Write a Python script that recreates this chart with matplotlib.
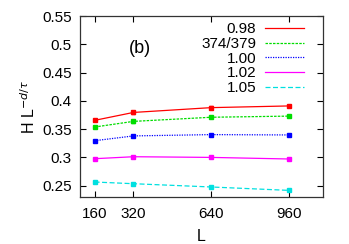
import numpy as np
import matplotlib
matplotlib.use("Agg")
import matplotlib.pyplot as plt
from matplotlib.lines import Line2D

plt.rcParams['font.family'] = ['Liberation Sans', 'DejaVu Sans']

L = [160, 320, 640, 960]
labels = ['0.98', '374/379', '1.00', '1.02', '1.05']
values = [
    [0.3655, 0.3795, 0.388, 0.391],
    [0.3537, 0.3637, 0.371, 0.373],
    [0.3295, 0.338, 0.3403, 0.3397],
    [0.2977, 0.3012, 0.300, 0.2972],
    [0.2565, 0.2535, 0.2477, 0.2417],
]
errors = [
    [0.001, 0.003, 0.003, 0.001],
    [0.001, 0.002, 0.001, 0.001],
    [0.001, 0.001, 0.001, 0.001],
    [0.001, 0.001, 0.001, 0.001],
    [0.001, 0.001, 0.001, 0.001],
]
colors = ['#ff0000', '#00dd00', '#0000ff', '#ff00ff', '#00e0e0']
styles = ['-', (0, (2, 1)), (0, (1, 1)), '-', (0, (4, 2))]

fig = plt.figure(figsize=(3.49, 2.44), dpi=100)
ax = fig.add_axes([80 / 349, 1 - 197 / 244, (323 - 80) / 349, (197 - 16) / 244])

handles = []
for vals, err, lab, c, ls in zip(values, errors, labels, colors, styles):
    ax.errorbar(L, vals, yerr=err, color=c, ls=ls, lw=0.9, marker='s', ms=2.5,
                capsize=1.5, elinewidth=0.9)
    handles.append(Line2D([], [], color=c, ls=ls, lw=0.9, label=lab))

ax.set_xlim(100, 1100)
ax.set_ylim(0.23, 0.55)
ax.set_xticks(L)
ax.set_yticks([0.25, 0.3, 0.35, 0.4, 0.45, 0.5, 0.55])
ax.set_yticklabels(['0.25', '0.3', '0.35', '0.4', '0.45', '0.5', '0.55'])
ax.tick_params(axis='y', direction='in', right=True, labelsize=11, length=4, width=0.8, pad=6)
ax.tick_params(axis='x', direction='in', top=True, labelsize=11, length=4, width=0.8, pad=7)
for s in ax.spines.values():
    s.set_linewidth(0.9)
    s.set_color('#333333')

ax.set_xlabel('L', fontsize=11.5, labelpad=6)
ax.set_ylabel(r'H L$^{-d/\tau}$', fontsize=11.5, labelpad=3)
ax.text(0.247, 0.82, '(b)', transform=ax.transAxes, fontsize=13, ha='center', va='center')

leg = ax.legend(handles=handles, loc='upper right', frameon=False, fontsize=11, markerfirst=False,
                handlelength=2.5, handletextpad=0.6, labelspacing=0.05,
                borderpad=0.1, borderaxespad=0.3, bbox_to_anchor=(0.945, 1.0))
leg._legend_box.align = 'right'
for t in leg.get_texts():
    t.set_ha('right')

fig.savefig('out.png', dpi=100)
